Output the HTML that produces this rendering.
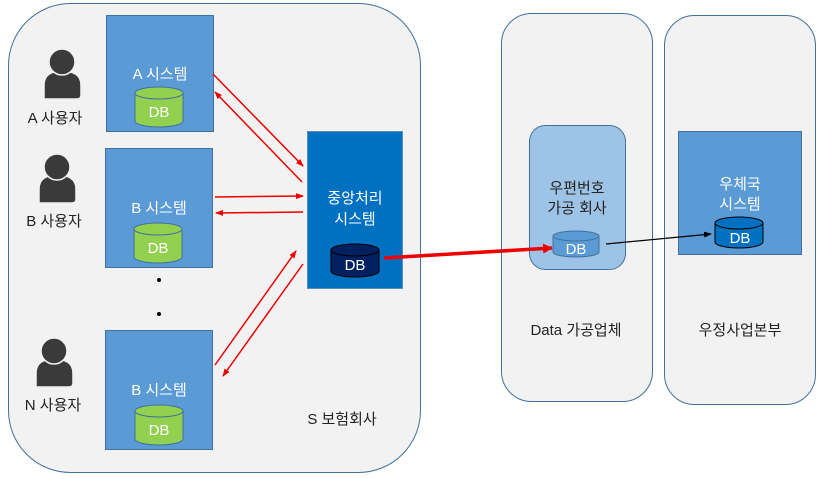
<!DOCTYPE html>
<html><head><meta charset="utf-8"><style>body{margin:0;background:#fff}svg{display:block}text{font-family:"Liberation Sans","Noto Sans CJK KR",sans-serif}</style></head><body>
<svg width="820" height="479" viewBox="0 0 820 479">
<defs>
<marker id="ar" markerWidth="8" markerHeight="8" refX="7" refY="4" orient="auto" markerUnits="userSpaceOnUse"><path d="M0,1 L8,4 L0,7z" fill="#e00"/></marker>
<marker id="arb" markerWidth="10" markerHeight="10" refX="9" refY="5" orient="auto" markerUnits="userSpaceOnUse"><path d="M0,0 L10,5 L0,10z" fill="#e00"/></marker>
<marker id="ak" markerWidth="8" markerHeight="8" refX="7" refY="4" orient="auto" markerUnits="userSpaceOnUse"><path d="M0,1 L8,4 L0,7z" fill="#000"/></marker>
</defs>
<rect x="8.5" y="3.5" width="412" height="469" rx="62" fill="#f2f2f2" stroke="#41719c"/>
<rect x="501.5" y="13.5" width="151" height="388" rx="30" fill="#f2f2f2" stroke="#41719c"/>
<rect x="664.5" y="15.5" width="151" height="389" rx="30" fill="#f2f2f2" stroke="#41719c"/>

<!-- users -->
<g fill="#3a3a3a" stroke="#f2f2f2" stroke-width="1.5">
<path d="M44,99 v-14 q0,-14 18,-14 q19,0 19,14 v10 q0,4 -4,4 z"/><circle cx="62" cy="62" r="13"/>
<path d="M39,203 v-14 q0,-14 18,-14 q19,0 19,14 v10 q0,4 -4,4 z"/><circle cx="57" cy="167" r="13"/>
<path d="M36,387 v-14 q0,-14 18,-14 q19,0 19,14 v10 q0,4 -4,4 z"/><circle cx="54" cy="351" r="13"/>
</g>
<g font-size="15" fill="#222" text-anchor="middle">
<text x="55" y="123">A 사용자</text><text x="54" y="226">B 사용자</text><text x="53" y="410">N 사용자</text>
<text x="342" y="424">S 보험회사</text>
<text x="576" y="335">Data 가공업체</text>
<text x="740" y="335">우정사업본부</text>
</g>

<!-- systems -->
<g fill="#5b9bd5" stroke="#41719c">
<rect x="106.5" y="15.5" width="107" height="116"/>
<rect x="105.5" y="148.5" width="107" height="119"/>
<rect x="105.5" y="330.5" width="107" height="119"/>
<rect x="678.5" y="131.5" width="123" height="123"/>
</g>
<rect x="307.5" y="131.5" width="95" height="157" fill="#0070c0" stroke="#5b8fc4"/>
<rect x="529.5" y="125.5" width="96" height="144" rx="16" fill="#9dc3e6" stroke="#41719c"/>
<g font-size="15" fill="#fff" text-anchor="middle">
<text x="160" y="79">A 시스템</text>
<text x="159" y="213">B 시스템</text>
<text x="159" y="395">B 시스템</text>
<text x="355" y="203">중앙처리</text><text x="355" y="224">시스템</text>
<text x="740" y="189">우체국</text><text x="740" y="209">시스템</text>
</g>
<g font-size="15" fill="#222" text-anchor="middle">
<text x="577" y="193">우편번호</text><text x="577" y="213">가공 회사</text>
</g>

<!-- cylinders -->
<g stroke="#41719c" stroke-width="1">
<path d="M135,93 v28 a24,6 0 0 0 48,0 v-28" fill="#92d050"/><ellipse cx="159" cy="93" rx="24" ry="6" fill="#92d050"/>
<path d="M134,229 v28 a24,6 0 0 0 48,0 v-28" fill="#92d050"/><ellipse cx="158" cy="229" rx="24" ry="6" fill="#92d050"/>
<path d="M135,411 v28 a24,6 0 0 0 48,0 v-28" fill="#92d050"/><ellipse cx="159" cy="411" rx="24" ry="6" fill="#92d050"/>
<path d="M331,250 v21 a24,6 0 0 0 48,0 v-21" fill="#002060" stroke="#000"/><ellipse cx="355" cy="250" rx="24" ry="6" fill="#002060" stroke="#000"/>
<path d="M553,236 v16 a23,5 0 0 0 46,0 v-16" fill="#5b9bd5"/><ellipse cx="576" cy="236" rx="23" ry="5" fill="#5b9bd5"/>
<path d="M715,223 v19 a24,6 0 0 0 48,0 v-19" fill="#0070c0" stroke="#000"/><ellipse cx="739" cy="223" rx="24" ry="6" fill="#0070c0" stroke="#000"/>
</g>
<g font-size="15" fill="#fff" text-anchor="middle">
<text x="159" y="117">DB</text><text x="158" y="253">DB</text><text x="159" y="435">DB</text>
<text x="355" y="270">DB</text><text x="576" y="254">DB</text><text x="740" y="243">DB</text>
</g>

<circle cx="159" cy="280" r="2" fill="#000"/><circle cx="159" cy="314" r="2" fill="#000"/>

<!-- arrows -->
<g stroke="#e00" stroke-width="1.5" fill="none" marker-end="url(#ar)">
<line x1="213" y1="74" x2="303" y2="166"/>
<line x1="302" y1="182" x2="215" y2="92"/>
<line x1="215" y1="197" x2="303" y2="196"/>
<line x1="303" y1="212" x2="216" y2="213"/>
<line x1="215" y1="365" x2="296" y2="251"/>
<line x1="303" y1="264" x2="223" y2="376"/>
</g>
<line x1="384" y1="258" x2="552" y2="248" stroke="#e00" stroke-width="3.5" marker-end="url(#arb)"/>
<line x1="606" y1="244" x2="711" y2="234" stroke="#000" stroke-width="1.2" marker-end="url(#ak)"/>
</svg>
</body></html>
